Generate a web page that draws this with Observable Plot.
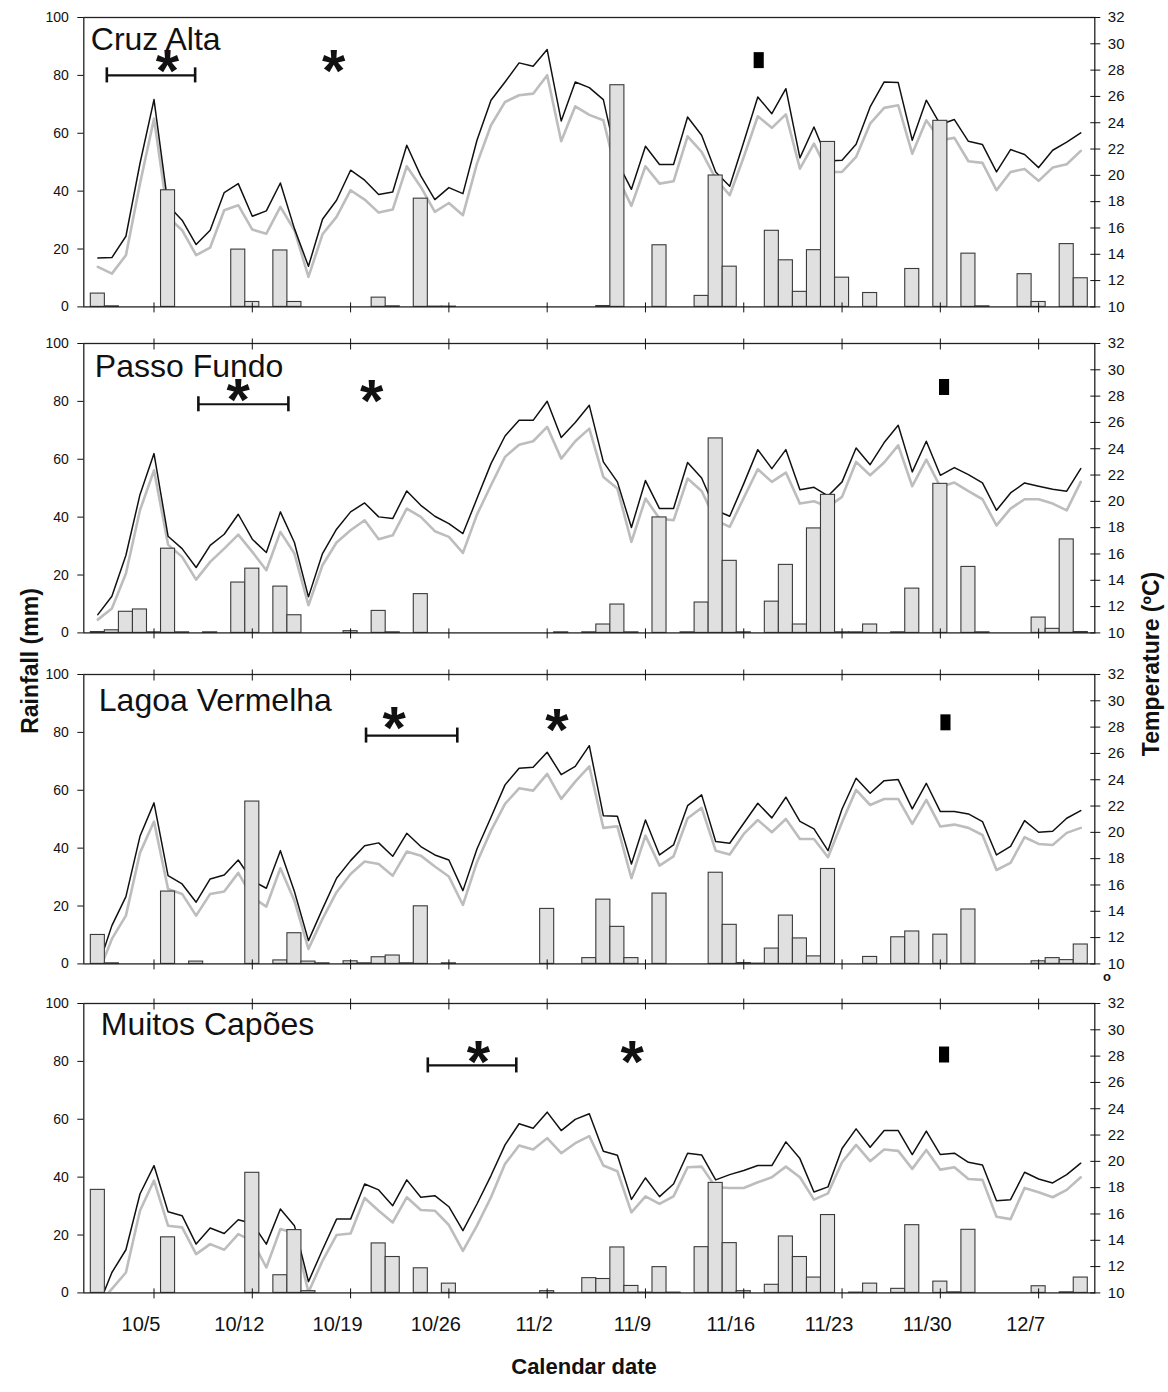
<!DOCTYPE html>
<html><head><meta charset="utf-8">
<script src="https://cdn.jsdelivr.net/npm/d3@7"></script>
<script src="https://cdn.jsdelivr.net/npm/@observablehq/plot@0.6"></script>
<style>
body{margin:0;background:#fff;font-family:"Liberation Sans",Arial,sans-serif;}
#wrap{position:relative;width:1168px;height:1392px;overflow:hidden;background:#fff;}
.panel{position:absolute;left:0;}
.lab{position:absolute;font-weight:bold;color:#111;white-space:nowrap;transform:translate(-50%,-50%);}
</style></head><body><div id="wrap"></div>
<script>
// ---- data ----
const stations = ["Cruz Alta","Passo Fundo","Lagoa Vermelha","Muitos Capões"];
const dateTicks = [4,11,18,25,32,39,46,53,60,67];
const dateLabels = ["10/5","10/12","10/19","10/26","11/2","11/9","11/16","11/23","11/30","12/7"];
const rainTicks = [0,20,40,60,80,100];
const tempTicks = [10,12,14,16,18,20,22,24,26,28,30,32];

const rainCA = [4.6,0.2,0,0,0,40.3,0,0,0,0, 19.8,1.7,0,19.5,1.7,0,0,0,0,0, 3.2,0.2,0,37.4,0.1,0.1,0,0,0,0, 0,0,0,0,0,0,0.3,76.6,0,0, 21.3,0,0,3.8,45.4,13.9,0,0,26.3,16.1, 5.2,19.6,57.0,10.1,0,4.8,0,0,13.1,0, 64.3,0,18.4,0.2,0,0,11.3,1.7,0,21.7, 9.9];
const tmaxCA = [13.72,13.75,15.37,20.9,25.76,17.73,16.59,14.74,15.83,18.69, 19.37,16.89,17.30,19.42,15.95,13.09,16.66,18.11,20.39,19.63, 18.54,18.74,22.29,19.96,18.16,19.07,18.61,22.67,25.71,27.1, 28.55,28.29,29.56,24.14,27.1,26.67,25.76,21.02,18.94,22.21, 20.82,20.82,24.44,23.05,20.26,19.17,22.54,25.96,24.69,26.59, 21.33,23.68,21.1,21.15,22.36,25.2,27.1,27.05,22.67,25.71, 23.86,24.24,22.59,22.34,20.26,21.96,21.58,20.59,21.91,22.52, 23.23];
const tminCA = [13.04,12.53,13.93,19.37,24.31,16.84,15.83,13.93,14.51,17.35, 17.73,15.88,15.57,17.6,15.83,12.28,15.52,16.84,18.87,18.16, 17.17,17.4,20.69,19.12,17.22,17.9,16.97,20.89,23.81,25.58, 26.09,26.21,27.61,22.59,25.25,24.6,24.19,19.88,17.68,20.69, 19.37,19.55,22.97,21.78,19.75,18.49,21.4,24.49,23.61,24.64, 20.51,22.41,20.26,20.26,21.4,23.93,25.13,25.33,21.65,24.19, 22.67,22.85,21.07,20.95,18.87,20.26,20.49,19.58,20.59,20.84, 21.86];

const rainPF = [0.3,0.9,7.3,8.1,0.2,29.1,0.2,0,0.2,0, 17.4,22.2,0,16.0,6.1,0,0,0,0.6,0, 7.6,0.2,0,13.4,0,0,0,0,0,0, 0,0,0,0.2,0,0.2,2.9,9.8,0.2,0, 39.9,0,0.2,10.5,67.2,24.9,0.2,0,10.8,23.5, 2.9,36.1,47.7,0.2,0.2,2.9,0,0.2,15.3,0, 51.5,0,22.8,0.2,0,0,0,5.3,1.4,32.3, 0.3];
const tmaxPF = [11.39,12.79,15.9,20.51,23.63,17.35,16.41,14.97,16.66,17.5, 19.02,17.12,16.11,19.2,16.87,12.74,16.03,17.88,19.2,19.88, 18.82,18.69,20.79,19.7,18.87,18.31,17.55,20.21,22.87,24.97, 26.16,26.16,27.61,24.85,25.99,27.3,23.0,21.48,18.01,21.58, 19.45,19.45,22.95,21.78,19.32,18.87,21.35,23.93,22.49,23.93, 20.89,21.07,20.41,21.48,24.06,22.79,24.47,25.78,22.24,24.57, 21.98,22.57,22.03,21.4,19.32,20.64,21.4,21.15,20.92,20.77, 22.49];
const tminPF = [11.01,11.85,14.51,19.32,22.36,16.71,15.78,14.05,15.4,16.41, 17.47,16.16,14.76,17.68,16.03,12.1,15.14,16.87,17.8,18.56, 17.12,17.42,19.45,18.82,17.73,17.3,16.08,18.99,21.22,23.38, 24.31,24.57,25.66,23.25,24.57,25.53,21.86,20.97,16.92,20.21, 18.69,18.56,21.73,20.79,18.56,18.06,20.26,22.44,21.48,22.19, 19.83,20.01,19.58,20.34,23.0,21.98,22.95,24.26,21.15,23.17, 21.1,21.43,20.77,20.16,18.18,19.45,20.16,20.16,19.83,19.32, 21.48];

const rainLV = [10.0,0.2,0,0,0,25.0,0,0.8,0,0, 0,56.1,0,1.2,10.6,0.8,0.2,0,0.9,0.2, 2.3,2.9,0.2,19.9,0,0.2,0,0,0,0, 0,0,19.0,0,0,2.0,22.2,12.8,2.0,0, 24.3,0,0,0,31.5,13.5,0.3,0.1,5.3,16.7, 8.8,2.6,32.8,0,0,2.4,0,9.2,11.2,0, 10.1,0,18.8,0,0,0,0,0.9,2.0,1.3, 6.7];
const tmaxLV = [9.7,12.91,15.12,19.7,22.24,16.71,16.08,14.69,16.46,16.76, 17.9,16.33,15.75,18.61,15.5,11.77,14.18,16.51,17.85,18.99, 19.2,18.18,19.93,18.92,18.28,17.9,15.57,18.74,21.15,23.61, 24.87,24.95,26.09,24.39,25.02,26.59,21.27,21.22,17.6,20.94, 18.28,19.04,22.03,22.85,19.3,19.17,20.69,22.21,21.1,22.67, 20.84,20.26,18.61,21.78,24.11,22.97,23.93,24.01,21.78,23.73, 21.58,21.58,21.4,20.82,18.28,18.94,20.89,20.01,20.08,21.07, 21.65];
const tminLV = [9.2,11.9,13.67,18.44,20.82,15.7,15.32,13.67,15.32,15.5, 16.92,15.07,14.36,17.27,14.81,11.14,13.42,15.45,16.84,17.78, 17.6,16.71,18.54,18.23,17.4,16.64,14.48,17.73,20.13,22.16, 23.35,23.17,24.44,22.54,23.86,25.02,20.34,20.46,16.51,19.75, 17.47,18.18,21.07,21.86,18.61,18.31,19.88,20.94,20.01,21.02, 19.5,19.5,18.11,20.77,23.23,22.08,22.54,22.54,20.64,22.47, 20.44,20.59,20.34,19.8,17.14,17.68,19.63,19.12,19.04,19.96, 20.34];

const rainMC = [35.6,0,0,0,0,19.2,0,0,0,0, 0,41.5,0,6.1,21.7,0.6,0,0,0,0, 17.1,12.4,0,8.5,0,3.2,0,0,0,0, 0,0,0.6,0,0,5.1,4.8,15.7,2.4,0.1, 8.9,0.1,0,15.8,38.0,17.2,0.6,0,2.8,19.5, 12.4,5.3,26.9,0,0.1,3.2,0,1.4,23.4,0, 3.9,0.2,21.8,0,0,0,0,2.3,0,0.2, 5.3];
const tmaxMC = [8.9,11.55,13.28,17.52,19.68,16.17,15.87,13.71,14.93,14.52, 15.56,15.28,13.71,16.38,15.11,10.86,13.28,15.61,15.61,18.28, 17.83,16.63,18.59,17.27,17.39,16.55,14.73,16.76,18.92,21.25, 22.86,22.52,23.74,22.34,23.19,23.62,20.77,20.47,17.11,18.74, 17.32,18.28,20.62,20.49,18.59,18.99,19.3,19.68,19.68,21.48, 20.21,17.67,18.06,20.98,22.47,21.07,22.34,22.34,20.52,22.3, 20.52,20.62,19.93,19.73,17.01,17.09,19.17,18.66,18.36,18.99, 19.86];
const tminMC = [9.1,10.3,11.55,16.25,18.54,15.11,14.98,12.95,13.71,13.28, 14.47,13.96,11.93,14.85,14.55,10.05,12.44,14.4,14.52,17.22, 16.25,15.36,17.27,16.3,16.25,15.16,13.2,15.11,17.27,19.81, 21.2,20.9,21.76,20.62,21.38,21.92,19.68,19.25,16.12,17.34, 16.76,17.34,19.55,19.6,18.03,17.98,17.98,18.41,18.79,19.6, 18.79,17.09,17.57,19.93,21.25,20.01,20.9,20.8,19.43,20.87, 19.37,19.55,18.66,18.59,15.79,15.61,17.98,17.65,17.27,17.83, 18.79];

// annotations: [start day, end day, rainfall level]
const rangeBars = [[0.64,6.93,80],[7.16,13.57,79],[19.1,25.6,78.9],[23.5,29.8,78.6]];
const asterisks = [[[4.95,84.2],[16.8,84.1]],[[10.0,83.3],[19.5,82.7]],[[21.1,84.1],[32.7,83.5]],[[27.1,82.6],[38.05,82.3]]];
const marksBlack = [[47.1,85.1],[60.3,84.8],[60.4,83.3],[60.3,82.2]];

const rains = [rainCA, rainPF, rainLV, rainMC];
const tmaxs = [tmaxCA, tmaxPF, tmaxLV, tmaxMC];
const tmins = [tminCA, tminPF, tminLV, tminMC];

// ---- layout/style ----
const FONT = '"Liberation Sans", Arial, sans-serif';
const panelTops = [0, 326, 657, 986];
const titleDx = [7, 11, 15, 17];
const titleDy = [9.5, 10.5, 13.3, 9];
const days = d3.range(71);
const toY = t => (t - 10) * 100 / 22;

function panel(k) {
  const rain = rains[k], tmax = tmaxs[k], tmin = tmins[k];
  const bars = days.map(i => ({i, r: rain[i]})).filter(d => d.r > 0);
  const last = k === 3;
  const H = last ? 380 : 330;
  const rb = rangeBars[k];
  const marks = [
    Plot.line(days, {x: i => i, y: i => toY(tmin[i]), stroke: "#bdbdbd", strokeWidth: 2.6, clip: true}),
    Plot.line(days, {x: i => i, y: i => toY(tmax[i]), stroke: "#111", strokeWidth: 1.5, clip: true}),
    Plot.rectY(bars, {x1: d => d.i - 0.5, x2: d => d.i + 0.5, y: "r", fill: "#e0e0e0", stroke: "#3a3a3a", strokeWidth: 1.1}),
    Plot.frame({stroke: "#222", strokeWidth: 1.3}),
    Plot.axisY({anchor: "left", ticks: rainTicks, tickSize: 6, tickPadding: 9, fontSize: 14, label: null}),
    Plot.axisY({anchor: "right", ticks: tempTicks.map(toY), tickSize: 10, dx: -5, fill: "none", label: null}),
    Plot.axisY({anchor: "right", ticks: tempTicks.map(toY), tickSize: 0, tickPadding: 13, fontSize: 15, label: null,
      tickFormat: d => String(Math.round(d * 0.22 + 10))}),
    Plot.axisX({anchor: "bottom", ticks: dateTicks, tickSize: 10, dy: -4, fill: "none", label: null}),
    Plot.text([stations[k]], {frameAnchor: "top-left", text: d => d, dx: titleDx[k], dy: titleDy[k], fontSize: 32, textAnchor: "start", lineAnchor: "top", fill: "#111"}),
    Plot.ruleY([rb], {y: d => d[2], x1: d => d[0], x2: d => d[1], stroke: "#111", strokeWidth: 2.2}),
    Plot.ruleX([[rb[0], rb[2]], [rb[1], rb[2]]], {x: d => d[0], y1: d => d[1] - 2.6, y2: d => d[1] + 2.6, stroke: "#111", strokeWidth: 2.6}),
    Plot.text(asterisks[k], {x: d => d[0], y: d => d[1], text: () => "*", fontSize: 60, fontWeight: "bold", lineAnchor: "middle", dy: 8.5, fill: "#111"}),
    Plot.rect([marksBlack[k]], {x1: d => d[0] - 0.36, x2: d => d[0] + 0.36, y1: d => d[1] - 2.76, y2: d => d[1] + 2.76, fill: "#000"})
  ];
  if (k > 0) marks.push(Plot.axisX({anchor: "top", ticks: dateTicks, tickSize: 11, dy: 5.5, fill: "none", label: null}));
  if (last) marks.push(Plot.axisX({anchor: "bottom", ticks: dateTicks, tickSize: 0, tickPadding: 24, fontSize: 20, dx: -13, label: null,
    tickFormat: d => dateLabels[dateTicks.indexOf(d)]}));
  return Plot.plot({
    width: 1168, height: H,
    marginTop: 17, marginBottom: H - 17 - 289.4, marginLeft: 83.3, marginRight: 1168 - 1094.3,
    x: {type: "linear", domain: [-1, 71], axis: null},
    y: {domain: [0, 100], axis: null},
    style: {fontFamily: FONT, color: "#111", background: "none", overflow: "visible"},
    marks
  });
}

const wrap = document.getElementById("wrap");
for (let k = 0; k < 4; k++) {
  const div = document.createElement("div");
  div.className = "panel";
  div.style.top = panelTops[k] + "px";
  div.appendChild(panel(k));
  wrap.appendChild(div);
}
function label(text, x, y, size, rot) {
  const d = document.createElement("div");
  d.className = "lab";
  d.textContent = text;
  d.style.left = x + "px"; d.style.top = y + "px"; d.style.fontSize = size + "px";
  if (rot) d.style.transform = "translate(-50%,-50%) rotate(-90deg)";
  wrap.appendChild(d);
}
label("Rainfall (mm)", 30, 661, 23, true);
label("Temperature (ºC)", 1151, 664, 23, true);
label("Calendar date", 584, 1367, 22, false);
const o = document.createElement("div");
o.style.cssText = "position:absolute;left:1103px;top:969px;font-size:13px;font-weight:bold;color:#111;";
o.textContent = "o";
wrap.appendChild(o);
</script></body></html>
